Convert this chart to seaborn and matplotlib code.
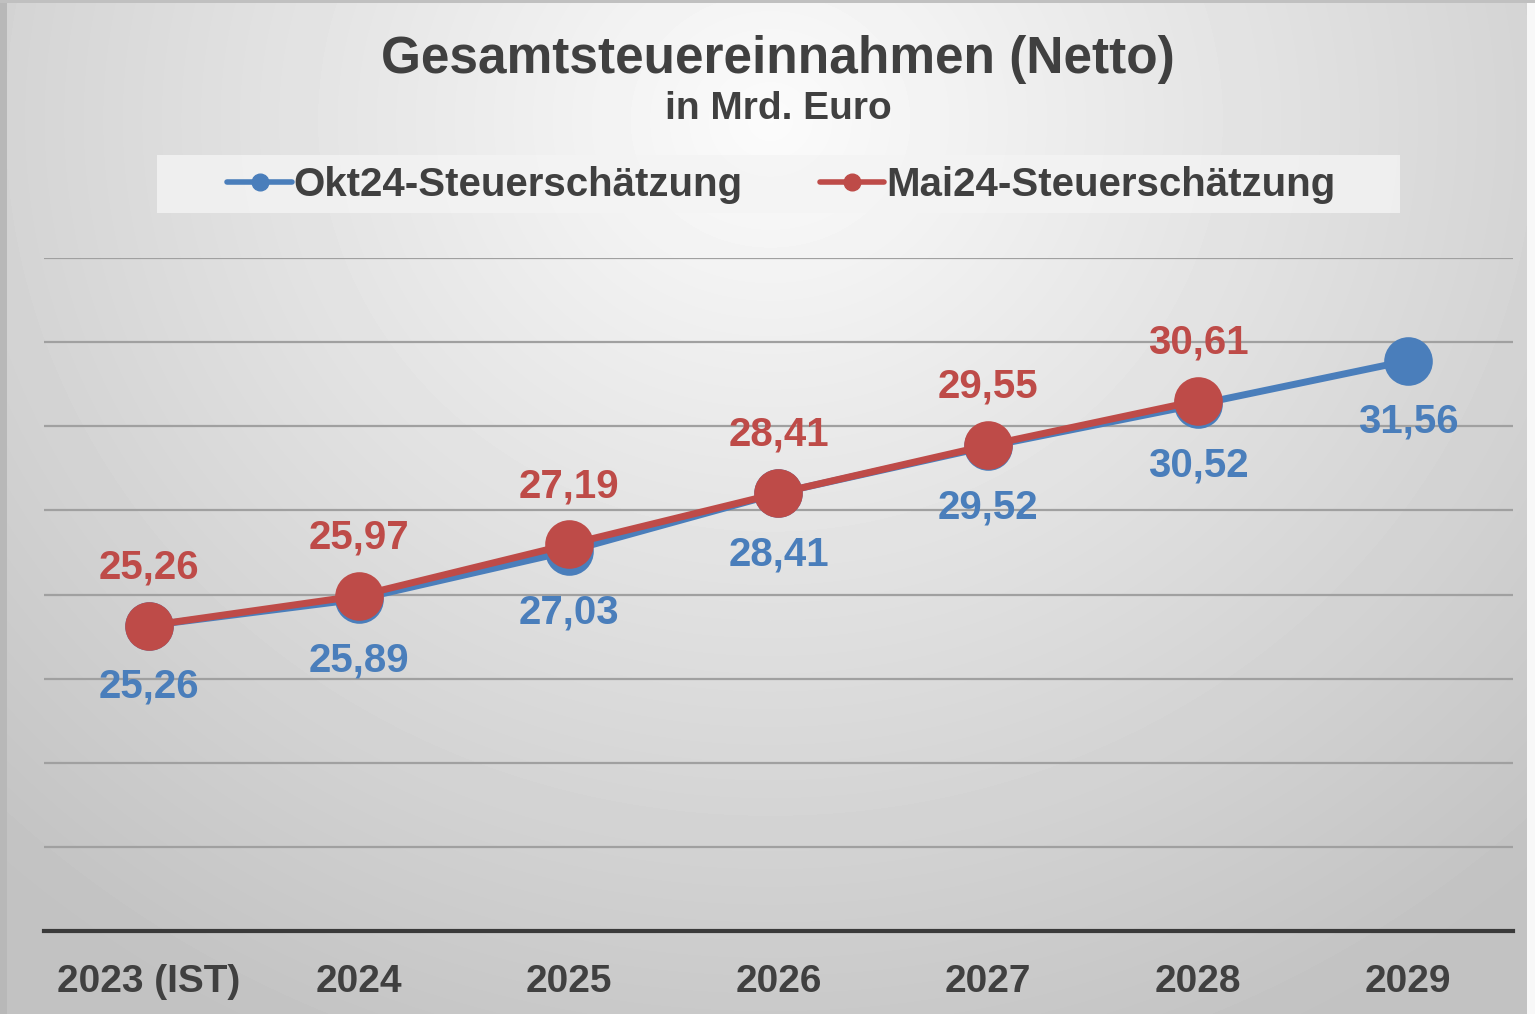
import numpy as np
import pandas as pd
import matplotlib.pyplot as plt
import matplotlib.patches as mpatches
import seaborn as sns

years = ['2023 (IST)', '2024', '2025', '2026', '2027', '2028', '2029']
okt24 = [25.26, 25.89, 27.03, 28.41, 29.52, 30.52, 31.56]
mai24 = [25.26, 25.97, 27.19, 28.41, 29.55, 30.61, np.nan]
series_names = ['Okt24-Steuerschätzung', 'Mai24-Steuerschätzung']

blue = '#4a7ebb'
red = '#be4b48'
text_col = '#404040'

df = pd.DataFrame({
    'pos': list(range(len(years))) * 2,
    'wert': okt24 + mai24,
    'reihe': [series_names[0]] * len(years) + [series_names[1]] * len(years),
})

sns.set_style('white')
plt.rcParams['font.family'] = ['Liberation Sans', 'DejaVu Sans']
plt.rcParams['font.weight'] = 'bold'

fig = plt.figure(figsize=(15.35, 10.14), dpi=100)

# radial gradient background
bg = fig.add_axes([0, 0, 1, 1], zorder=-10)
yy, xx = np.mgrid[0:1014, 0:1535]
r = np.sqrt(((xx - 770) / 1100) ** 2 + ((yy - 120) / 1000) ** 2)
shade = np.clip(0.985 - 0.22 * r, 0.76, 1)
shade[:, :7] = 0.72
shade[:, 1527:] = 0.97
shade[:3, :] = 0.75
bg.imshow(shade, cmap='gray', vmin=0, vmax=1, aspect='auto', interpolation='bilinear')
bg.axis('off')

ax = fig.add_axes([44 / 1535, 1 - 931 / 1014, 1469 / 1535, 673 / 1014])
ax.patch.set_alpha(0)

sns.lineplot(data=df, x='pos', y='wert', hue='reihe', palette=[blue, red],
             marker='o', markersize=35, markeredgewidth=0, linewidth=5,
             ax=ax, legend=False)

ax.set_xlim(-0.5, 6.5)
ax.set_ylim(18, 34)
ax.set_yticks(np.arange(18, 35, 2))
ax.set_yticklabels([])
ax.grid(axis='y', color='#a0a0a0', linewidth=1.6)
ax.tick_params(axis='y', length=0)
ax.set_xticks(range(len(years)))
ax.set_xticklabels(years, fontsize=28, fontweight='bold', color=text_col)
ax.tick_params(axis='x', length=0, pad=24)
sns.despine(ax=ax, left=True, right=True, top=True)
ax.spines['bottom'].set_color('#3a3a3a')
ax.spines['bottom'].set_linewidth(3)
ax.set_xlabel('')
ax.set_ylabel('')

for i, v in enumerate(okt24):
    ax.annotate(f'{v:.2f}'.replace('.', ','), (i, v), xytext=(0, -44),
                textcoords='offset points', ha='center', va='center',
                fontsize=29, fontweight='bold', color=blue)
for i, v in enumerate(mai24):
    if np.isnan(v):
        continue
    ax.annotate(f'{v:.2f}'.replace('.', ','), (i, v), xytext=(0, 42),
                textcoords='offset points', ha='center', va='center',
                fontsize=29, fontweight='bold', color=red)

fig.text(0.507, 1 - 60 / 1014, 'Gesamtsteuereinnahmen (Netto)', ha='center', va='center',
         fontsize=37, fontweight='bold', color=text_col)
fig.text(0.507, 1 - 109 / 1014, 'in Mrd. Euro', ha='center', va='center',
         fontsize=28, fontweight='bold', color=text_col)

# legend box
fig.patches.append(mpatches.Rectangle((157 / 1535, 1 - 213 / 1014), 1243 / 1535, 58 / 1014,
                                      transform=fig.transFigure, facecolor='#f4f4f4',
                                      edgecolor='none', alpha=0.8, zorder=0))
handles = [plt.Line2D([], [], color=c, marker='o', markersize=12, linewidth=4)
           for c in (blue, red)]
fig.legend(handles, series_names, loc='center', bbox_to_anchor=(0.509, 1 - 185 / 1014),
           ncol=2, frameon=False, handlelength=1.6, handletextpad=0.05,
           columnspacing=1.9, labelcolor=text_col, prop={'weight': 'bold', 'size': 29})

fig.savefig('out.png', dpi=100)
